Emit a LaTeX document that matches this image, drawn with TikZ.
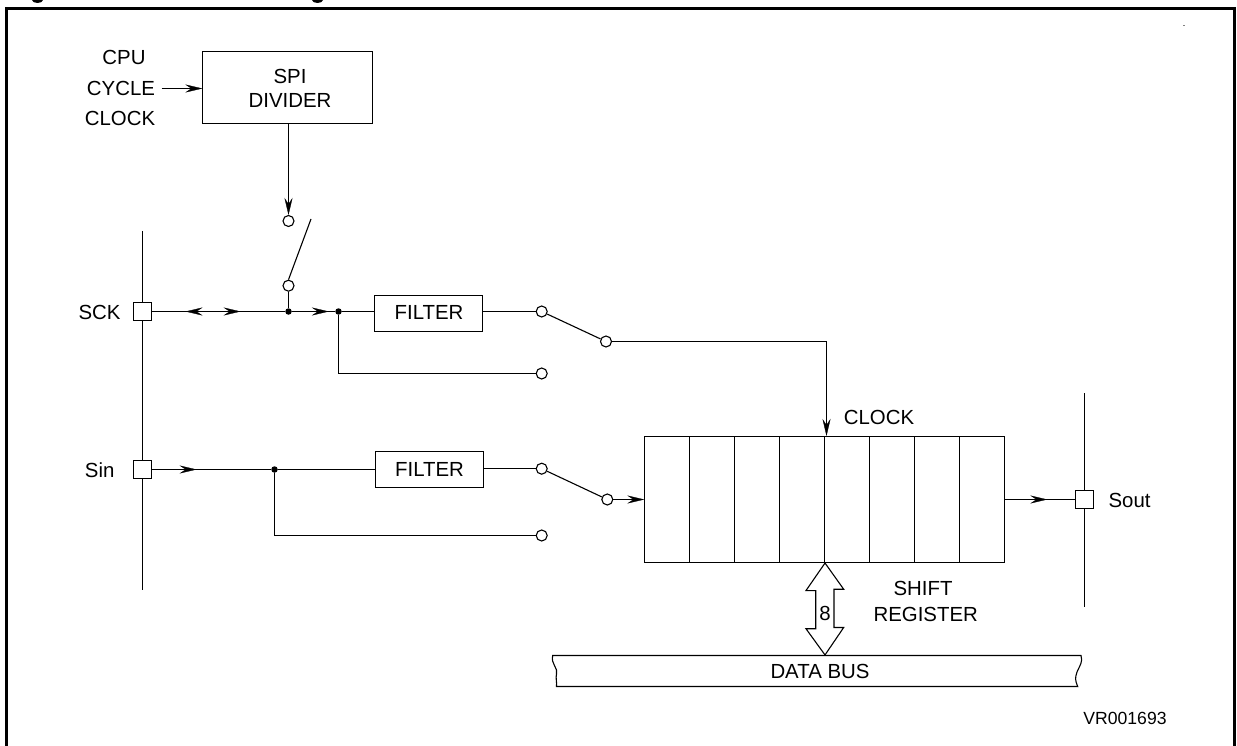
\documentclass[tikz,border=0pt]{standalone}
\usepackage{fontspec}
\setmainfont{Liberation Sans}
\usetikzlibrary{arrows.meta,calc,decorations.markings}

\tikzset{
  sigtip/.tip={Stealth[length=17pt,width=8pt,inset=6pt,line width=0.3pt]},
  tipfwd/.style={postaction={decorate,decoration={markings,mark=at position #1 with {\arrow{sigtip}}}}},
  tipback/.style={postaction={decorate,decoration={markings,mark=at position #1 with {\arrowreversed{sigtip}}}}},
  lbl/.style={inner sep=0pt,font=\fontsize{20.4}{24}\selectfont,align=center},
  blockbox/.style={draw,lbl,minimum width=#1},
  padbox/.style={draw,inner sep=0pt,minimum size=18pt},
  pin/.style={draw,circle,inner sep=0pt,minimum size=11pt},
  dot/.style={fill,circle,inner sep=0pt,minimum size=6.5pt},
  cell/.style={draw,inner sep=0pt,minimum width=44.9pt,minimum height=126pt}
}

\begin{document}
\begin{tikzpicture}[x=1pt,y=-1pt,line width=1.1pt,>=sigtip]
\useasboundingbox (0,0) rectangle (1237,746);

% outer frame, cut by the page at the bottom
\draw [line width=3pt] (6.5,746) |- (1234,8.5) -- (1234,746);
\fill (37.5,0) ellipse (5.5 and 3);
\fill (317.5,0) ellipse (5.5 and 3);
\fill [gray] (1183,25) rectangle ++(1.5,1);
%
\node [lbl] at (124,57) (cpu) {CPU};
\node [lbl,inner sep=6pt] at (121,88.5) (cycle) {CYCLE};
\node [lbl] at (120,118) (clock) {CLOCK};
\node [blockbox=170pt,minimum height=71.6pt] at (287.9,87.5) (divider) {};
\node [lbl] at (290,76) (spi) {SPI};
\node [lbl] at (290,100) (dividertxt) {DIVIDER};
\draw [->] (cycle.east) -- (divider.west|-cycle.east);
%
% pads and their vertical lines
\node [padbox] at (142.5,311.5) (sck) {};
\node [padbox] at (142.5,469.5) (sin) {};
\node [padbox] at (1084.5,499.5) (sout) {};
\coordinate (leftTop) at (142.5,231);
\coordinate (leftBot) at (142.5,590);
\coordinate (rightTop) at (1084.5,393);
\coordinate (rightBot) at (1084.5,607);
\draw (leftTop) -- (sck) -- (sin) -- (leftBot);
\draw (rightTop) -- (sout) -- (rightBot);
\node [lbl,anchor=east] at (121,312) (scktxt) {SCK};
\node [lbl,anchor=east] at (115,470) (sintxt) {Sin};
\node [lbl,anchor=west] at (1108,500) (souttxt) {Sout};
%
% divider switch
\node [pin] at (288.5,221) (pin1) {};
\node [pin] at (288.5,285.7) (pin2) {};
\coordinate (armEnd) at (311,219);
\draw [->] (divider.south-|pin1) -- (pin1);
\draw (pin2.north) -- (armEnd);
%
% SCK path
\node [dot] at (288.5,311.5) (dot1) {};
\node [dot] at (338.5,311.5) (dot2) {};
\node [blockbox=108.4pt,minimum height=36pt] at (428.5,313.5) (filter1) {};
\node [lbl] at (429,312) (filter1txt) {FILTER};
\node [pin] at (541.7,311.5) (pin3) {};
\node [pin] at (606,341.5) (pin4) {};
\node [pin] at (541.7,373.5) (pin5) {};
\draw [tipback=33.5pt,tipfwd=88.5pt] (sck) -- (dot1);
\draw [tipfwd=36.5pt] (dot1) -- (dot2);
\draw (pin2) -- (dot1);
\draw (dot2) -- (dot2-|filter1.west);
\draw (filter1.east|-pin3) -- (pin3);
\draw (pin3) -- (pin4);
\draw (dot2) |- (pin5);
%
% shift register
\foreach \i [count=\j from 0] in {1,...,8}
  \node [cell] at (667.3+44.9*\j,499.5) (reg\i) {};
\node [lbl] at (879,417) (clocktxt) {CLOCK};
\node [lbl] at (923,588) (shift) {SHIFT};
\node [lbl] at (925.7,614.5) (register) {REGISTER};
\draw (pin4) -- ++(220.5,0) coordinate (clockTurn);
\draw [->] (clockTurn) -- (clockTurn|-reg4.north);
%
% Sin path
\node [dot] at (274.5,469.5) (dot3) {};
\node [blockbox=108.6pt,minimum height=36pt] at (429.5,469.5) (filter2) {};
\node [lbl] at (429.5,469.5) (filter2txt) {FILTER};
\node [pin] at (541.7,468.7) (pin6) {};
\node [pin] at (607.3,499.5) (pin7) {};
\node [pin] at (541.7,535.5) (pin8) {};
\draw [tipfwd=44.5pt] (sin) -- (dot3);
\draw (dot3) -- (filter2);
\draw (filter2.east|-pin6) -- (pin6);
\draw (pin6) -- (pin7);
\draw (dot3) |- (pin8);
\draw [->] (pin7) -- (reg1.west|-pin7);
\draw [tipfwd=42.7pt] (reg8.east|-sout) -- (sout);
%
% data bus
\node [lbl,minimum width=520pt,minimum height=31pt] at (820,671) (bus) {DATA BUS};
\draw (552.7,655.5) .. controls (550.5,664) and (558.5,668) .. (556.5,674)
      .. controls (555.5,678) and (557,682) .. (556.5,686.5) -- (1077.7,686.5)
      .. controls (1075,680) and (1075,678) .. (1077,672)
      .. controls (1080,665) and (1083,662) .. (1081,655.5) -- cycle;
\node [lbl] at (825,613) (eight) {8};
\draw (reg4.south east) -- ++(-19,27.5) -- ++(9.7,0) -- ++(0,38.2) -- ++(-9.7,0)
      -- (reg4.south east|-bus.north) -- ++(18.7,-27.5) -- ++(-9.7,0) -- ++(0,-38.2) -- ++(9.7,0) -- cycle;
%
\node [lbl,font=\fontsize{17.6}{20}\selectfont] at (1125,718.3) (vr) {VR001693};
\end{tikzpicture}
\end{document}
